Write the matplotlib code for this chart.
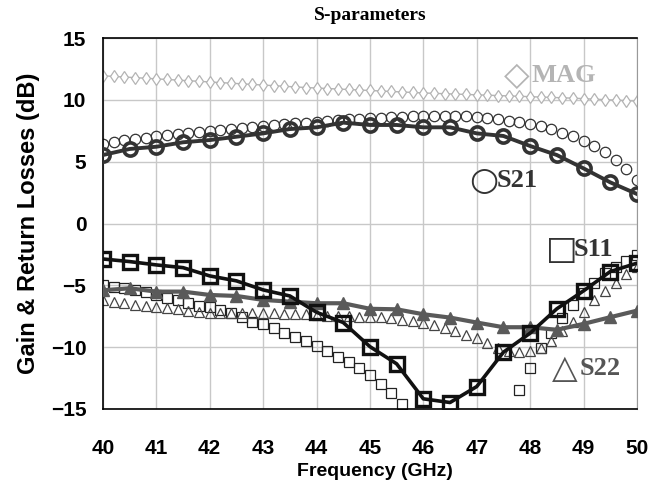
import numpy as np
import matplotlib
matplotlib.use('Agg')
import matplotlib.pyplot as plt

# measured data, 0.5 GHz step
freq_meas = np.arange(40.0, 50.01, 0.5)
s21_meas = [5.54, 6.03, 6.21, 6.57, 6.75, 7.02, 7.29, 7.64, 7.78, 8.16, 7.97,
            7.97, 7.78, 7.78, 7.29, 7.08, 6.27, 5.54, 4.46, 3.33, 2.39]
s11_meas = [-2.87, -3.08, -3.35, -3.57, -4.24, -4.64, -5.37, -5.86, -7.18, -8.01, -9.96,
            -11.35, -14.18, -14.48, -13.19, -10.41, -8.87, -6.90, -5.45, -3.89, -3.21]
s22_meas = [-5.40, -5.24, -5.51, -5.51, -5.78, -5.86, -6.18, -6.32, -6.45, -6.45, -6.90,
            -6.94, -7.34, -7.61, -8.01, -8.39, -8.39, -8.60, -8.12, -7.58, -7.05]

# simulated data, 0.2 GHz step
freq_sim = np.linspace(40.0, 50.0, 51)
mag_sim = [11.95, 11.9, 11.85, 11.8, 11.75, 11.7, 11.65, 11.6, 11.55, 11.5,
           11.45, 11.4, 11.35, 11.3, 11.25, 11.2, 11.15, 11.1, 11.05, 11.0,
           10.96, 10.92, 10.88, 10.84, 10.8, 10.76, 10.72, 10.68, 10.64, 10.6,
           10.56, 10.53, 10.5, 10.47, 10.44, 10.41, 10.38, 10.35, 10.32, 10.29,
           10.26, 10.23, 10.2, 10.17, 10.14, 10.1, 10.06, 10.02, 9.98, 9.94, 9.9]
s21_sim = [6.45, 6.6, 6.75, 6.85, 6.95, 7.05, 7.12, 7.2, 7.3, 7.38,
           7.45, 7.55, 7.65, 7.75, 7.83, 7.9, 7.97, 8.05, 8.1, 8.17,
           8.25, 8.3, 8.37, 8.42, 8.47, 8.5, 8.55, 8.6, 8.65, 8.68,
           8.7, 8.72, 8.72, 8.7, 8.68, 8.62, 8.55, 8.45, 8.33, 8.2,
           8.05, 7.85, 7.62, 7.35, 7.05, 6.7, 6.25, 5.75, 5.15, 4.4, 3.5]
s11_sim = [-4.97, -5.1, -5.24, -5.37, -5.51, -5.78, -6.04, -6.18, -6.45, -6.64,
           -6.77, -6.99, -7.26, -7.58, -7.94, -8.12, -8.47, -8.87, -9.15, -9.47,
           -9.87, -10.28, -10.76, -11.17, -11.65, -12.24, -12.97, -13.72, -14.6, -16.0,
           -17.5, -18.5, -19.0, -19.0, -18.5, -17.5, -16.5, -15.8, -15.6, -13.45,
           -11.65, -10.09, -8.87, -7.61, -6.58, -5.64, -4.83, -4.02, -3.49, -3.0, -2.54]
s22_sim = [-6.18, -6.31, -6.45, -6.58, -6.67, -6.77, -6.85, -6.94, -7.04, -7.12,
           -7.2, -7.2, -7.26, -7.26, -7.26, -7.26, -7.26, -7.31, -7.31, -7.34,
           -7.39, -7.45, -7.45, -7.45, -7.53, -7.53, -7.58, -7.67, -7.8, -7.85,
           -8.01, -8.19, -8.45, -8.72, -8.99, -9.25, -9.66, -10.06, -10.33, -10.41,
           -10.33, -10.06, -9.52, -8.72, -7.93, -7.12, -6.18, -5.45, -4.83, -4.08, -3.49]

sans = ['Liberation Sans', 'DejaVu Sans']
serif = ['Liberation Serif', 'DejaVu Serif']

fig = plt.figure(figsize=(6.6, 4.88), dpi=100)
ax = fig.add_axes([0.156, 0.162, 0.809, 0.760])

# simulated (open markers)
ax.plot(freq_sim, mag_sim, '-', color='#b4b4b4', lw=1.0, marker='d', ms=6.5,
        mfc='white', mec='#b4b4b4', mew=0.9, zorder=2)
ax.plot(freq_sim, s21_sim, 'o', ms=7.5, mfc='none', mec='#333333', mew=0.9, zorder=2)
ax.plot(freq_sim, s11_sim, 's', ms=7, mfc='none', mec='#222222', mew=0.9, zorder=2)
ax.plot(freq_sim, s22_sim, '^', ms=7.5, mfc='none', mec='#444444', mew=0.9, zorder=2)

# measured (thick lines)
ax.plot(freq_meas, s22_meas, '-', color='#5a5a5a', lw=3.0, marker='^', ms=9,
        mfc='#5a5a5a', mec='#5a5a5a', zorder=3)
ax.plot(freq_meas, s21_meas, '-', color='#333333', lw=2.8, marker='o', ms=9.5,
        mfc='none', mec='#333333', mew=2.6, zorder=4)
ax.plot(freq_meas, s11_meas, '-', color='#111111', lw=2.6, marker='s', ms=9.5,
        mfc='none', mec='#111111', mew=2.4, zorder=5)

ax.set_xlim(40, 50)
ax.set_ylim(-15, 15)
ax.set_xticks(range(40, 51))
ax.set_yticks(range(-15, 16, 5))
ax.grid(True, color='#c8c8c8', lw=1.0)
ax.set_axisbelow(True)
ax.tick_params(length=0, labelsize=15)
ax.tick_params(axis='x', pad=22)
ax.tick_params(axis='y', pad=12)
for lab in ax.get_xticklabels() + ax.get_yticklabels():
    lab.set_fontweight('bold')
    lab.set_family(sans)
for s in ['left', 'bottom', 'top']:
    ax.spines[s].set_color('black')
    ax.spines[s].set_linewidth(1.2)
ax.spines['right'].set_color('#999999')

ax.set_xlabel('Frequency (GHz)', fontsize=14, fontweight='bold', family=sans)
ax.set_ylabel('Gain & Return Losses (dB)', fontsize=17, fontweight='bold', family=sans)
ax.xaxis.set_label_coords(0.51, -0.145)
ax.yaxis.set_label_coords(-0.118, 0.5)
ax.set_title('S-parameters', fontsize=14, fontweight='bold', family=serif, pad=13)

# curve labels
labels = [(47.5, 12.0, '\u25c7', 'MAG', '#b4b4b4'),
          (46.85, 3.5, '\u25cb', 'S21', '#333333'),
          (48.3, -2.1, '\u25a1', 'S11', '#333333'),
          (48.4, -11.7, '\u25b3', 'S22', '#555555')]
for x, y, sym, name, c in labels:
    ax.text(x, y, sym, fontsize=24, color=c, family=['DejaVu Sans'],
            ha='left', va='center', zorder=6)
    ax.text(x + 0.52, y, name, fontsize=19, color=c, fontweight='bold',
            family=serif, ha='left', va='center', zorder=6)

fig.savefig('out.png', dpi=100)
